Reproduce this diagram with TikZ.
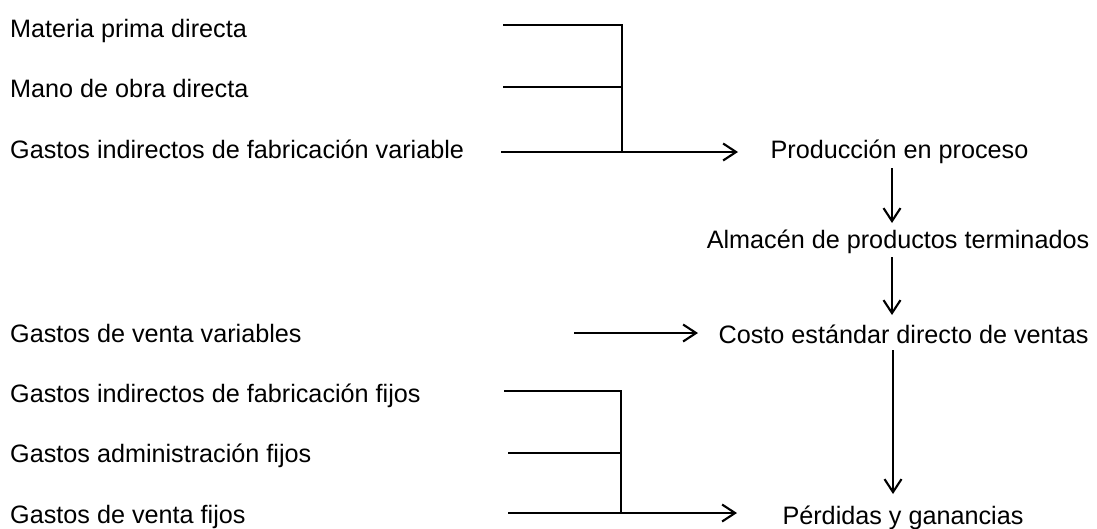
\documentclass[tikz,border=0pt]{standalone}
\usepackage{fontspec}
\setmainfont{Liberation Sans}
\usetikzlibrary{arrows.meta}
\begin{document}
\begin{tikzpicture}[x=1pt,y=-1pt,
  lbl/.style={font=\fontsize{25.2}{30}\selectfont, inner sep=0pt, text height=18pt, text depth=5pt},
  lft/.style={lbl, anchor=base west},
  rgt/.style={lbl, anchor=base},
  ln/.style={line width=2.1pt},
  arr/.style={line width=2.1pt, -{Straight Barb[length=13pt,width=17pt,line width=2.1pt]}}]
\useasboundingbox (0,0) rectangle (1097,528);
% left labels
\node[lft] (mpd)  at (10,37)  {Materia prima directa};
\node[lft] (mod)  at (10,97)  {Mano de obra directa};
\node[lft] (gifv) at (10,158) {Gastos indirectos de fabricación variable};
\node[lft] (gvv)  at (10,342) {Gastos de venta variables};
\node[lft] (giff) at (10,402) {Gastos indirectos de fabricación fijos};
\node[lft] (gaf)  at (10,462) {Gastos administración fijos};
\node[lft] (gvf)  at (10,523) {Gastos de venta fijos};
% right labels
\node[rgt] (prod)  at (899.5,158) {Producción en proceso};
\node[rgt] (alm)   at (898,248)   {Almacén de productos terminados};
\node[rgt] (costo) at (903.5,343) {Costo estándar directo de ventas};
\node[rgt] (perd)  at (903,524)   {Pérdidas y ganancias};
% top bracket
\coordinate (a1) at (503,25);
\coordinate (a2) at (503,87);
\coordinate (a3) at (501,152);
\coordinate (j1) at (622,25);
\coordinate (j2) at (622,87);
\coordinate (j3) at (622,152);
\coordinate (t1) at (738,152);
\draw[ln] (a1) -- (j1) -- (j3);
\draw[ln] (a2) -- (j2);
\draw[arr] (a3) -- (t1);
% middle arrow
\coordinate (m1) at (574,333);
\coordinate (m2) at (698,333);
\draw[arr] (m1) -- (m2);
% bottom bracket
\coordinate (b1) at (504,391);
\coordinate (b2) at (508,453);
\coordinate (b3) at (508,513);
\coordinate (k1) at (621,391);
\coordinate (k2) at (621,453);
\coordinate (k3) at (621,513);
\coordinate (t3) at (737,513);
\draw[ln] (b1) -- (k1) -- (k3);
\draw[ln] (b2) -- (k2);
\draw[arr] (b3) -- (t3);
% vertical arrows
\coordinate (v1s) at (892,168);
\coordinate (v1e) at (892,223);
\coordinate (v2s) at (892,257);
\coordinate (v2e) at (892,315);
\coordinate (v3s) at (893,350);
\coordinate (v3e) at (893,494);
\draw[arr] (v1s) -- (v1e);
\draw[arr] (v2s) -- (v2e);
\draw[arr] (v3s) -- (v3e);
\end{tikzpicture}
\end{document}
